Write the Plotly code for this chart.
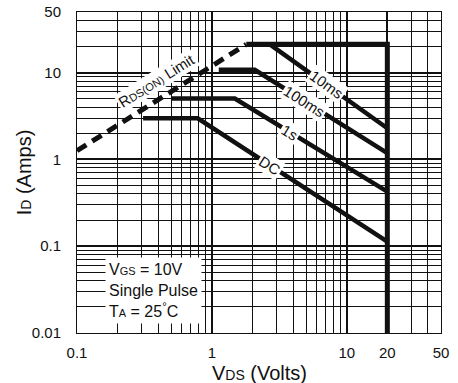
import math
import plotly.graph_objects as go

# Safe operating area, log-log: drain current vs drain-source voltage
vds_rds = [0.1, 1.8]          # R_DS(on) limit line (V)
id_rds = [1.26, 21.2]         # R_DS(on) limit line (A)

vds_outline = [1.8, 20, 20]   # package current limit and V_DS max
id_outline = [21.2, 21.2, 0.01]

curve_names = ["10ms", "100ms", "1s", "DC"]
curve_vds = [
    [2.69, 20],
    [1.125, 2.08, 20],
    [0.504, 1.48, 20],
    [0.309, 0.786, 20],
]
curve_id = [
    [21.2, 2.29],
    [10.8, 10.8, 1.18],
    [5.03, 5.03, 0.426],
    [2.98, 2.98, 0.113],
]
label_vds = [7.1, 4.87, 3.78, 2.69]   # where each curve name sits

x_ticks = [0.1, 1, 10, 20, 50]
x_ticktext = ["0.1", "1", "10", "20", "50"]
y_ticks = [0.01, 0.1, 1, 10, 50]
y_ticktext = ["0.01", "0.1", "1", "10", "50"]

W, H = 458, 383
ML, MR, MT, MB = 77, 17, 12, 50
x_range = [math.log10(0.1), math.log10(50)]
y_range = [math.log10(0.01), math.log10(50)]
ppd_x = (W - ML - MR) / (x_range[1] - x_range[0])
ppd_y = (H - MT - MB) / (y_range[1] - y_range[0])

FONT = "Liberation Sans, Arial, sans-serif"
INK = "#111"


def minor_vals(lo_exp, hi_exp, top):
    vals = []
    for e in range(lo_exp, hi_exp + 1):
        for m in range(2, 10):
            v = m * 10 ** e
            if v < top:
                vals.append(v)
    return vals


def screen_angle(xs, ys):
    dx = (math.log10(xs[-1]) - math.log10(xs[-2])) * ppd_x
    dy = (math.log10(ys[-1]) - math.log10(ys[-2])) * ppd_y
    return -math.degrees(math.atan2(dy, dx))


fig = go.Figure()

fig.add_trace(go.Scatter(
    x=vds_rds, y=id_rds, mode="lines",
    line=dict(color=INK, width=5, dash="11px,7px"),
    hoverinfo="skip", showlegend=False,
))
fig.add_trace(go.Scatter(
    x=vds_outline, y=id_outline, mode="lines",
    line=dict(color=INK, width=5),
    hoverinfo="skip", showlegend=False,
))
for name, xs, ys in zip(curve_names, curve_vds, curve_id):
    fig.add_trace(go.Scatter(
        x=xs, y=ys, mode="lines", name=name,
        line=dict(color=INK, width=4.5),
        hoverinfo="skip", showlegend=False,
    ))

annotations = []
for name, xs, ys, lx in zip(curve_names, curve_vds, curve_id, label_vds):
    lx0, lx1 = math.log10(xs[-2]), math.log10(xs[-1])
    ly0, ly1 = math.log10(ys[-2]), math.log10(ys[-1])
    t = (math.log10(lx) - lx0) / (lx1 - lx0)
    ly = 10 ** (ly0 + t * (ly1 - ly0))
    annotations.append(dict(
        x=math.log10(lx), y=math.log10(ly), xref="x", yref="y",
        text=name, showarrow=False, textangle=screen_angle(xs, ys),
        font=dict(family=FONT, size=15, color=INK),
        bgcolor="white", borderpad=1,
    ))

annotations.append(dict(
    x=math.log10(0.39), y=math.log10(8.2), xref="x", yref="y",
    text="R<span style='font-size:11px'>DS(ON)</span> Limit",
    showarrow=False, textangle=screen_angle(vds_rds, id_rds),
    font=dict(family=FONT, size=15, color=INK),
    bgcolor="white", borderpad=1,
))

annotations.append(dict(
    x=0.076, y=0.236, xref="paper", yref="paper",
    xanchor="left", yanchor="top", align="left",
    text=("V<span style='font-size:11px'>GS</span> = 10V<br>"
          "Single Pulse<br>"
          "T<span style='font-size:11px'>A</span> = 25<sup>°</sup>C"),
    showarrow=False,
    font=dict(family=FONT, size=16, color=INK),
    bgcolor="white", borderpad=3,
))

# Axis titles sit at fixed spots in the margins
annotations.append(dict(
    x=0.5, y=-0.125, xref="paper", yref="paper",
    xanchor="center", yanchor="middle",
    text="V<span style='font-size:14px'>DS</span> (Volts)",
    showarrow=False, font=dict(family=FONT, size=20, color=INK),
))
annotations.append(dict(
    x=-0.146, y=0.5, xref="paper", yref="paper",
    xanchor="center", yanchor="middle", textangle=-90,
    text="I<span style='font-size:14px'>D</span> (Amps)",
    showarrow=False, font=dict(family=FONT, size=20, color=INK),
))

axis_common = dict(
    type="log", automargin=False,
    showline=True, mirror=True, linecolor=INK, linewidth=1,
    showgrid=True, gridcolor=INK, gridwidth=1.5,
    zeroline=False, ticks="",
    tickfont=dict(family=FONT, size=15, color=INK),
)

fig.update_layout(
    width=W, height=H,
    margin=dict(l=ML, r=MR, t=MT, b=MB, pad=0, autoexpand=False),
    paper_bgcolor="white", plot_bgcolor="white",
    showlegend=False,
    annotations=annotations,
    xaxis=dict(
        axis_common, range=x_range,
        tickmode="array", tickvals=x_ticks, ticktext=x_ticktext,
        ticklabelstandoff=6,
        minor=dict(tickmode="array", tickvals=minor_vals(-1, 1, 50),
                   showgrid=True, gridcolor=INK, gridwidth=1),
    ),
    yaxis=dict(
        axis_common, range=y_range,
        tickmode="array", tickvals=y_ticks, ticktext=y_ticktext,
        ticklabelstandoff=12,
        minor=dict(tickmode="array", tickvals=minor_vals(-2, 1, 50),
                   showgrid=True, gridcolor=INK, gridwidth=1),
    ),
)

fig.write_html("out.html")
